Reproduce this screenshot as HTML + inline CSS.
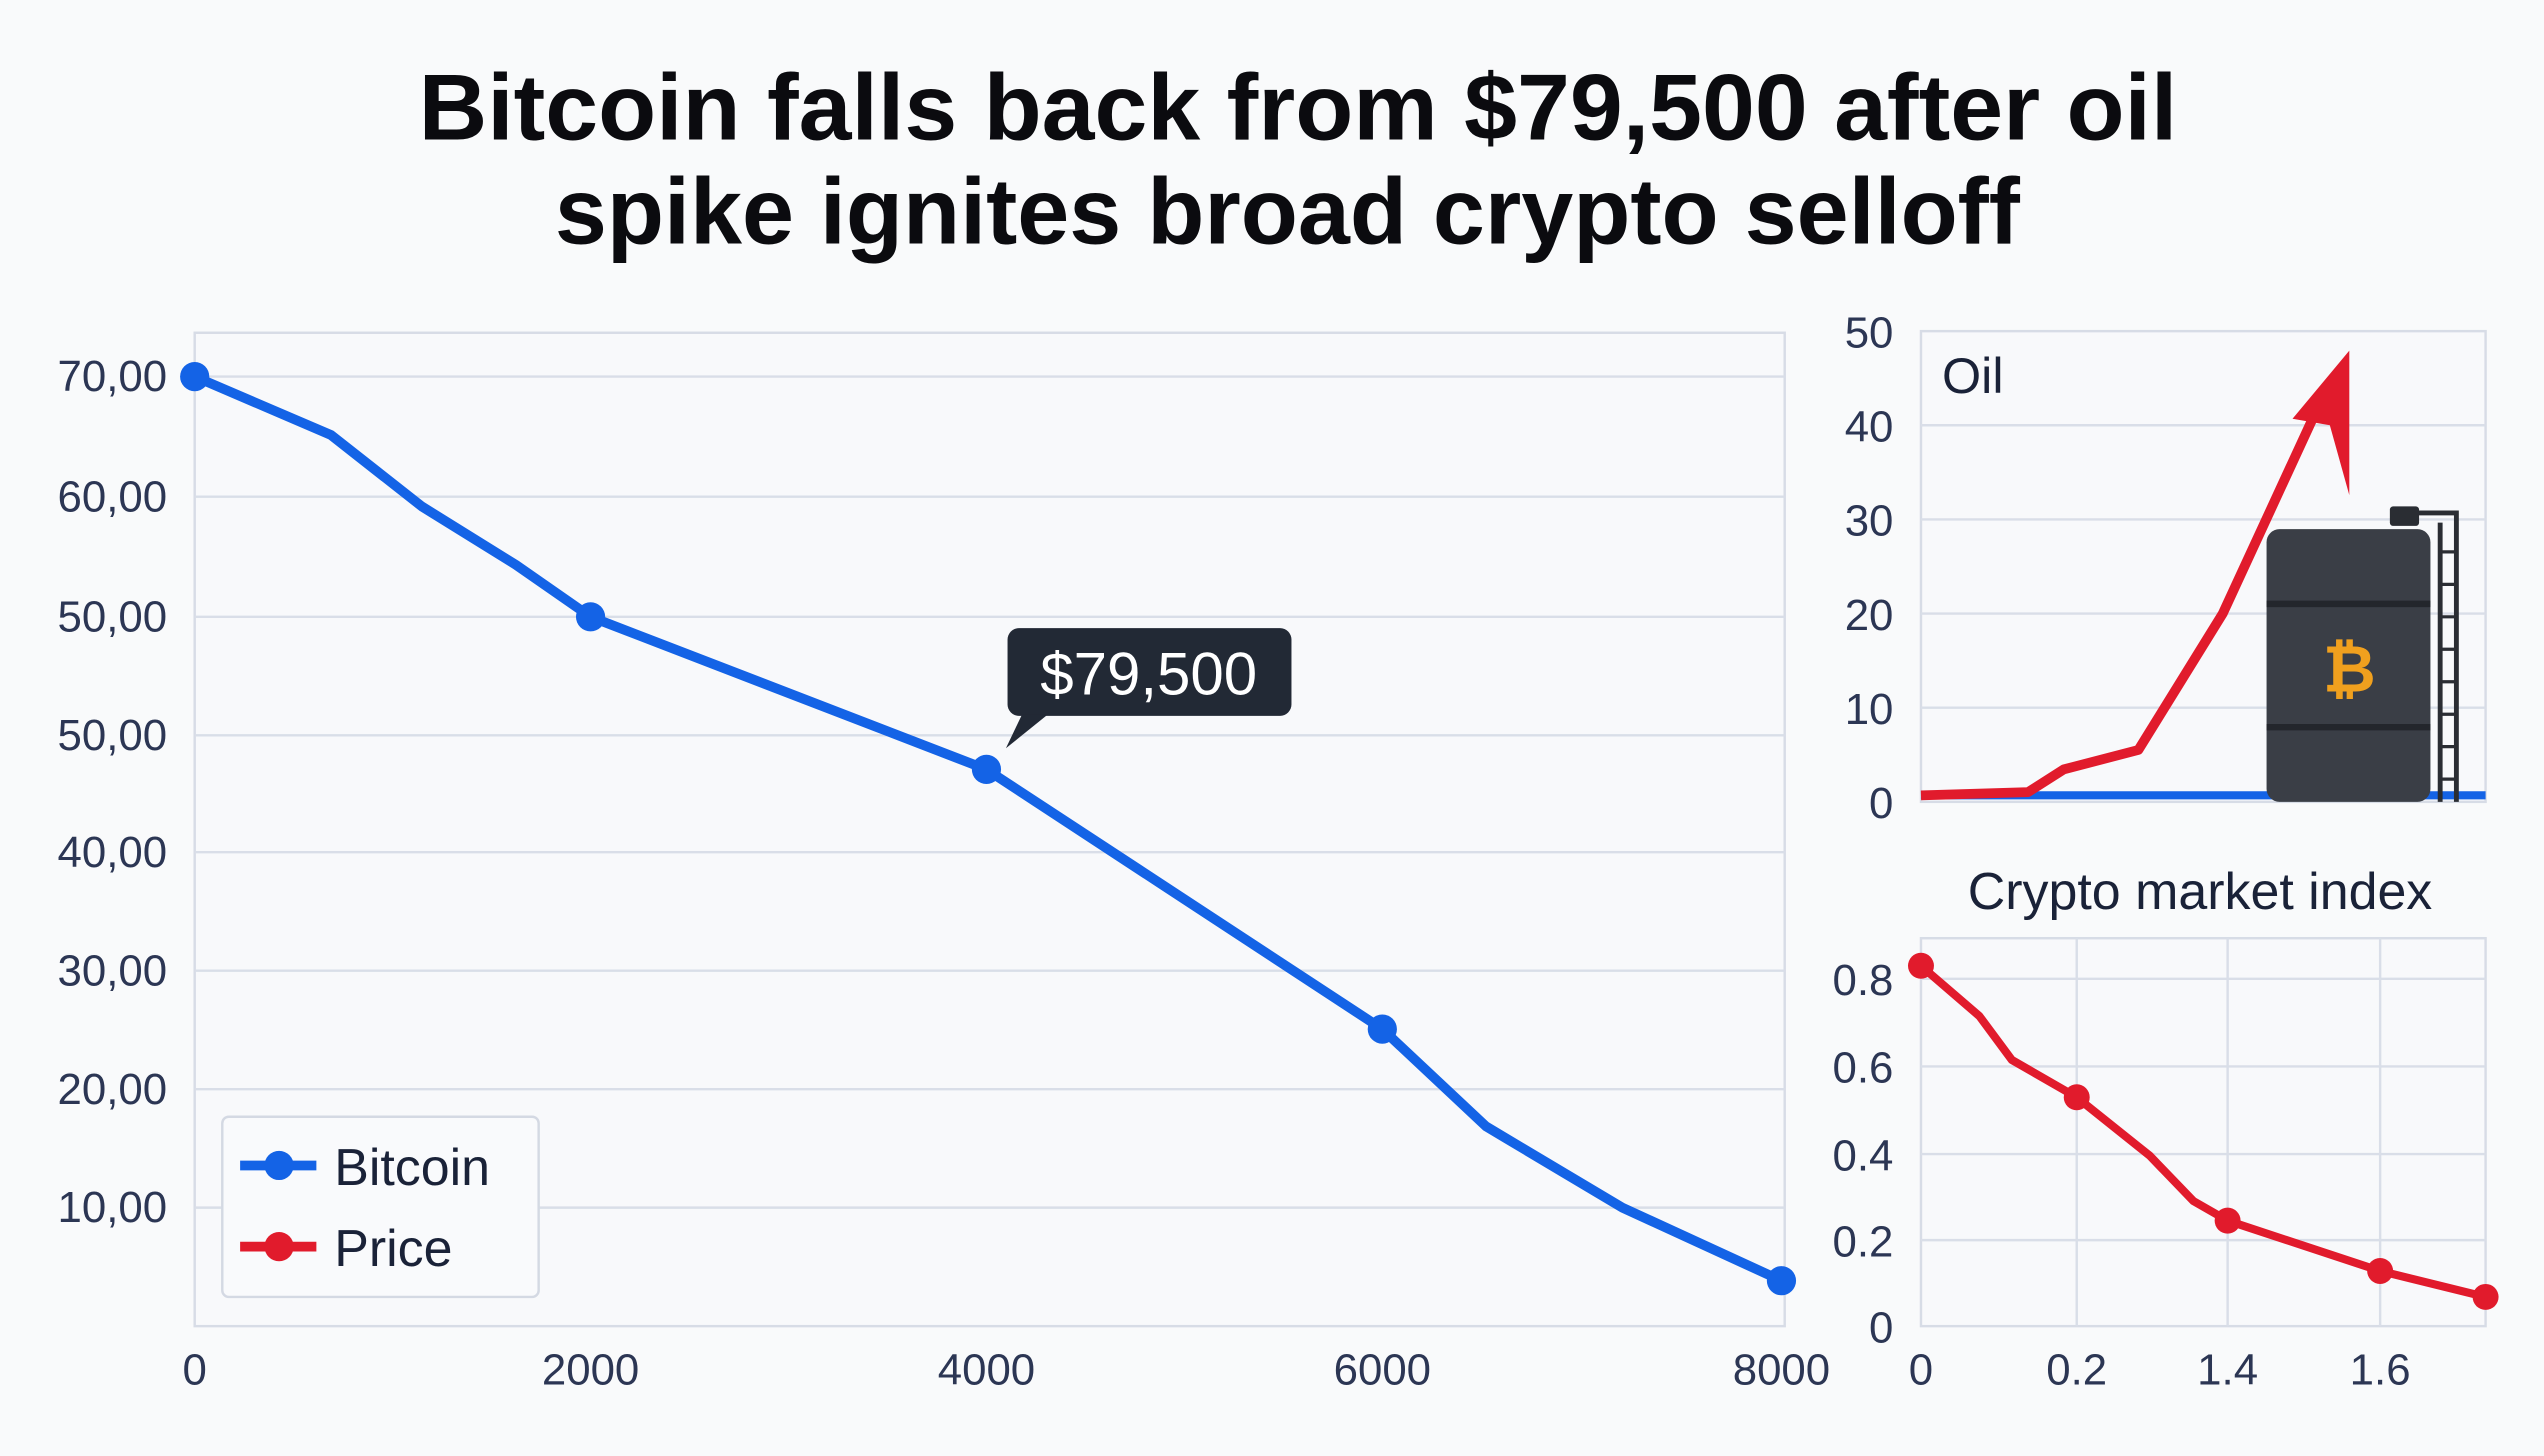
<!DOCTYPE html>
<html><head><meta charset="utf-8"><style>
html,body{margin:0;padding:0;background:#f9fafb;}
svg{display:block}
text{font-family:"Liberation Sans",sans-serif;}
</style></head><body>
<svg width="2544" height="1456" viewBox="0 0 1568 897" preserveAspectRatio="none" xmlns="http://www.w3.org/2000/svg">
<rect width="1568" height="897" fill="#f9fafb"/>
<text x="258" y="86" font-size="58" font-weight="bold" fill="#0b0b0f" textLength="1084" lengthAdjust="spacingAndGlyphs">Bitcoin falls back from $79,500 after oil</text>
<text x="342" y="150" font-size="58" font-weight="bold" fill="#0b0b0f" textLength="903" lengthAdjust="spacingAndGlyphs">spike ignites broad crypto selloff</text>

<!-- main chart -->
<rect x="120" y="205" width="980" height="612" fill="#f8f9fb" stroke="#d7dce6" stroke-width="1.5"/>
<g stroke="#d9dee8" stroke-width="1.5">
<line x1="120" y1="232" x2="1100" y2="232"/><line x1="120" y1="306" x2="1100" y2="306"/>
<line x1="120" y1="380" x2="1100" y2="380"/><line x1="120" y1="453" x2="1100" y2="453"/>
<line x1="120" y1="525" x2="1100" y2="525"/><line x1="120" y1="598" x2="1100" y2="598"/>
<line x1="120" y1="671" x2="1100" y2="671"/><line x1="120" y1="744" x2="1100" y2="744"/>
</g>
<g font-size="27" fill="#2c3654" text-anchor="end">
<text x="103" y="241">70,00</text><text x="103" y="315">60,00</text><text x="103" y="389">50,00</text>
<text x="103" y="462">50,00</text><text x="103" y="534">40,00</text><text x="103" y="607">30,00</text>
<text x="103" y="680">20,00</text><text x="103" y="753">10,00</text>
</g>
<g font-size="27" fill="#2c3654" text-anchor="middle">
<text x="120" y="853">0</text><text x="364" y="853">2000</text><text x="608" y="853">4000</text>
<text x="852" y="853">6000</text><text x="1098" y="853">8000</text>
</g>
<polyline points="120,232 204,268 260,312 318,348 364,380 608,474 852,634 916,694 1000,744 1098,789" fill="none" stroke="#1463e6" stroke-width="6" stroke-linejoin="round"/>
<g fill="#1463e6"><circle cx="120" cy="232" r="9"/><circle cx="364" cy="380" r="9"/><circle cx="608" cy="474" r="9"/><circle cx="852" cy="634" r="9"/><circle cx="1098" cy="789" r="9"/></g>
<rect x="621" y="387" width="175" height="54" rx="7" fill="#222935"/>
<polygon points="630,440 646,440 620,461" fill="#222935"/>
<text x="708" y="428" font-size="37" fill="#fff" text-anchor="middle">$79,500</text>
<rect x="137" y="688" width="195" height="111" rx="4" fill="#f9fafc" stroke="#d4d9e3" stroke-width="1.5"/>
<line x1="148" y1="718" x2="195" y2="718" stroke="#1463e6" stroke-width="6"/><circle cx="172" cy="718" r="9" fill="#1463e6"/>
<line x1="148" y1="768" x2="195" y2="768" stroke="#e11b2c" stroke-width="6"/><circle cx="172" cy="768" r="9" fill="#e11b2c"/>
<text x="206" y="730" font-size="32" fill="#1a2238">Bitcoin</text>
<text x="206" y="780" font-size="32" fill="#1a2238">Price</text>

<!-- oil panel -->
<rect x="1184" y="204" width="348" height="290" fill="#f8f9fb" stroke="#d7dce6" stroke-width="1.5"/>
<g stroke="#d9dee8" stroke-width="1.5">
<line x1="1184" y1="262" x2="1532" y2="262"/><line x1="1184" y1="320" x2="1532" y2="320"/>
<line x1="1184" y1="378" x2="1532" y2="378"/><line x1="1184" y1="436" x2="1532" y2="436"/>
</g>
<g font-size="27" fill="#2c3654" text-anchor="end">
<text x="1167" y="214">50</text><text x="1167" y="272">40</text><text x="1167" y="330">30</text>
<text x="1167" y="388">20</text><text x="1167" y="446">10</text><text x="1167" y="504">0</text>
</g>
<text x="1197" y="242" font-size="31" fill="#1a2238">Oil</text>
<line x1="1184" y1="490" x2="1532" y2="490" stroke="#1463e6" stroke-width="5"/>
<polyline points="1184,490 1250,488 1272,474 1318,462 1370,378 1430,248" fill="none" stroke="#e11b2c" stroke-width="6" stroke-linejoin="round"/>
<polygon points="1448,216 1448,305 1436,262 1413,258" fill="#e11b2c"/>
<g>
<rect x="1473" y="312" width="18" height="12" rx="2" fill="#2a2d33"/>
<path d="M1490 316 H1514 V494 M1504 322 V494" stroke="#2a2d33" stroke-width="3" fill="none"/>
<g stroke="#2a2d33" stroke-width="2"><line x1="1504" y1="340" x2="1514" y2="340"/><line x1="1504" y1="360" x2="1514" y2="360"/><line x1="1504" y1="380" x2="1514" y2="380"/><line x1="1504" y1="400" x2="1514" y2="400"/><line x1="1504" y1="420" x2="1514" y2="420"/><line x1="1504" y1="440" x2="1514" y2="440"/><line x1="1504" y1="460" x2="1514" y2="460"/><line x1="1504" y1="480" x2="1514" y2="480"/></g>
<rect x="1397" y="326" width="101" height="168" rx="8" fill="#3a3e46"/>
<g stroke="#23262c" stroke-width="4"><line x1="1397" y1="372" x2="1498" y2="372"/><line x1="1397" y1="448" x2="1498" y2="448"/></g>
<text x="1448" y="426" font-size="40" font-weight="bold" fill="#f0a01e" text-anchor="middle">₿</text>
</g>

<!-- crypto panel -->
<text x="1356" y="560" font-size="32" fill="#1a2238" text-anchor="middle">Crypto market index</text>
<rect x="1184" y="578" width="348" height="239" fill="#f8f9fb" stroke="#d7dce6" stroke-width="1.5"/>
<g stroke="#d9dee8" stroke-width="1.5">
<line x1="1184" y1="603" x2="1532" y2="603"/><line x1="1184" y1="657" x2="1532" y2="657"/>
<line x1="1184" y1="711" x2="1532" y2="711"/><line x1="1184" y1="764" x2="1532" y2="764"/>
<line x1="1280" y1="578" x2="1280" y2="817"/><line x1="1373" y1="578" x2="1373" y2="817"/><line x1="1467" y1="578" x2="1467" y2="817"/>
</g>
<g font-size="27" fill="#2c3654" text-anchor="end">
<text x="1167" y="613">0.8</text><text x="1167" y="667">0.6</text><text x="1167" y="721">0.4</text>
<text x="1167" y="774">0.2</text><text x="1167" y="827">0</text>
</g>
<g font-size="27" fill="#2c3654" text-anchor="middle">
<text x="1184" y="853">0</text><text x="1280" y="853">0.2</text><text x="1373" y="853">1.4</text><text x="1467" y="853">1.6</text>
</g>
<polyline points="1184,595 1220,626 1240,653 1280,676 1325,712 1352,740 1373,752 1467,783 1532,799" fill="none" stroke="#e11b2c" stroke-width="5" stroke-linejoin="round"/>
<g fill="#e11b2c"><circle cx="1184" cy="595" r="8"/><circle cx="1280" cy="676" r="8"/><circle cx="1373" cy="752" r="8"/><circle cx="1467" cy="783" r="8"/><circle cx="1532" cy="799" r="8"/></g>
</svg>
</body></html>
